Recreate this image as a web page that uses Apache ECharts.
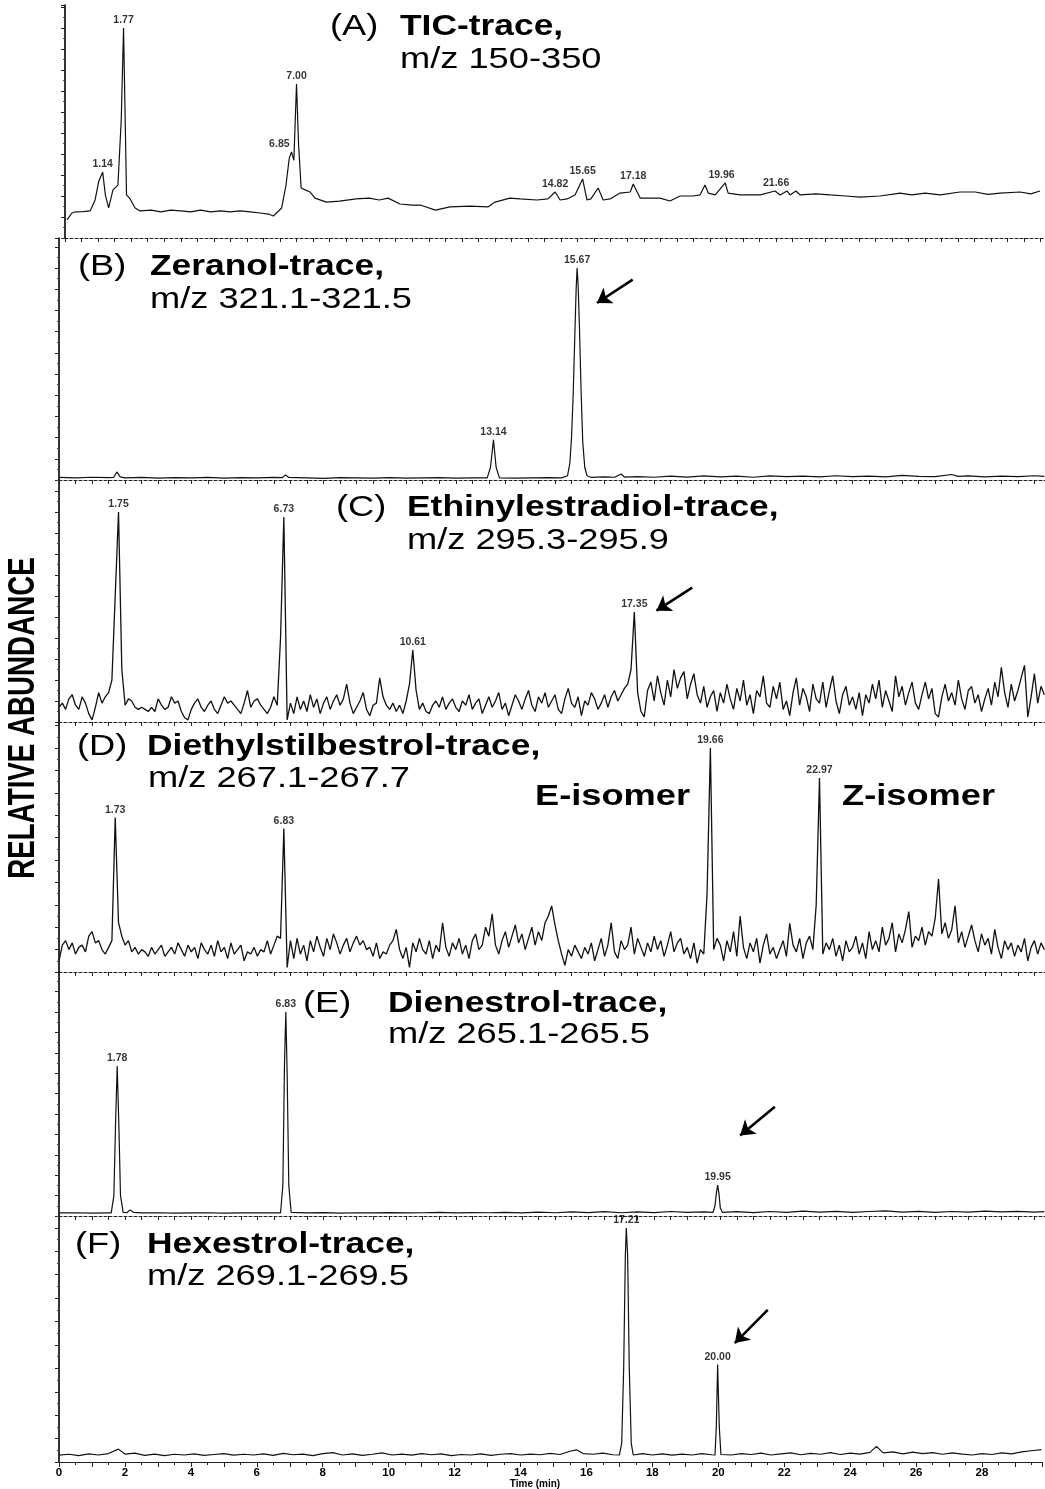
<!DOCTYPE html>
<html><head><meta charset="utf-8">
<script src="https://cdn.jsdelivr.net/npm/echarts/dist/echarts.min.js"></script>
<style>html,body{margin:0;padding:0;background:#fff}#c{width:1045px;height:1489px}</style>
</head><body><div id="c"></div>
<script>
// ---------------- DATA ----------------
// Panel A: TIC trace [time(min), relative abundance %]
const traceA = [[0.06,8.6],[0.21,11.9],[0.30,12.4],[0.55,12.6],[0.76,12.9],[0.91,18.1],[1.02,27],[1.14,31.4],[1.22,20.5],[1.32,14.3],[1.45,22.9],[1.60,25.2],[1.70,56],[1.77,100],[1.82,56],[1.86,20.5],[1.97,18.6],[2.12,14.3],[2.27,12.9],[2.6,13.3],[2.9,12.4],[3.2,13.3],[3.5,12.9],[3.8,12.4],[4.1,13.3],[4.4,12.4],[4.7,12.9],[5.0,12.4],[5.3,12.9],[5.6,12.4],[5.9,11.9],[6.15,11.4],[6.3,10.5],[6.55,14.3],[6.68,25],[6.78,38],[6.85,41],[6.92,37],[6.97,60],[7.00,73.3],[7.06,45],[7.14,23.8],[7.26,22.9],[7.41,21.9],[7.56,19.0],[7.9,17.1],[8.3,17.6],[8.8,18.6],[9.2,19.0],[9.5,18.1],[9.77,19.0],[10.13,16.2],[10.5,15.7],[10.74,15.7],[11.2,13.3],[11.64,14.8],[12.24,15.2],[12.79,14.8],[13.0,17.1],[13.45,19.0],[13.75,18.6],[14.27,18.1],[14.6,18.6],[14.82,21.9],[14.97,18.1],[15.18,18.6],[15.42,20.5],[15.65,28.1],[15.78,18.1],[15.9,18.6],[16.12,23.8],[16.27,18.1],[16.48,18.6],[16.78,21.4],[17.09,21.9],[17.18,25.7],[17.39,19.0],[17.99,19.0],[18.29,17.6],[18.6,20.0],[19.0,20.0],[19.2,20.5],[19.35,25.2],[19.45,21.4],[19.66,20.5],[19.96,26.2],[20.05,21.4],[20.41,20.5],[21.02,20.5],[21.47,22.4],[21.62,20.5],[21.83,22.4],[21.92,20.5],[22.10,22.4],[22.23,20.5],[22.7,21.0],[23.13,20.5],[23.6,20.0],[24.04,19.5],[24.64,20.0],[25.25,21.4],[25.6,20.5],[26.0,21.4],[26.46,20.5],[27.06,21.9],[27.52,21.9],[27.9,20.8],[28.27,21.4],[28.88,21.9],[29.2,21.0],[29.48,22.4]];

// Panel B: Zeranol trace
const traceB = [[0,1.2],[0.5,1.0],[1.0,1.3],[1.5,1.1],[1.65,1.2],[1.75,3.8],[1.85,1.5],[2.0,1.0],[2.5,1.2],[3,0.9],[3.5,1.1],[4,1.0],[4.5,1.2],[5,0.9],[5.5,1.1],[6,1.0],[6.5,1.2],[6.75,1.1],[6.85,2.4],[6.95,1.2],[7.5,1.0],[8,0.8],[8.5,1.1],[9,1.0],[9.5,0.9],[10,1.1],[10.5,0.9],[11,1.0],[11.5,1.1],[12,0.9],[12.5,1.0],[12.95,1.0],[13.05,6],[13.14,18.9],[13.22,6],[13.32,1.0],[13.8,0.9],[14.3,1.0],[14.8,1.1],[15.2,1.0],[15.38,2],[15.45,8],[15.5,20],[15.55,40],[15.6,68],[15.64,90],[15.67,100],[15.7,92],[15.74,72],[15.79,42],[15.84,18],[15.9,6],[15.97,2],[16.1,1.2],[16.5,1.5],[16.8,1.3],[17.0,2.8],[17.1,1.4],[17.5,1.6],[18,1.3],[18.5,1.8],[19,1.4],[19.5,1.9],[20,1.5],[20.5,1.8],[21,1.3],[21.5,1.9],[22,1.6],[22.5,1.8],[23,1.5],[23.5,2.0],[24,1.6],[24.5,1.8],[25,1.5],[25.5,2.2],[26,1.7],[26.5,1.6],[27,2.6],[27.2,1.7],[27.5,1.9],[28,1.5],[28.5,1.8],[29,1.6],[29.5,2.0],[29.8,1.7]];

// Panel C: Ethinylestradiol trace, sampled every stepC min from 0
const stepC = 0.1;
const valuesC = [
 7,9,6,11,13,8,6,12,9,4,
 1,7,14,9,12,14,20,60,100,25,
 8,11,10,7,6,7,6,5,7,5,
 11,8,6,7,12,9,10,5,2,1,
 6,9,11,7,5,8,10,6,4,8,
 12,9,10,8,6,4,9,15,7,10,
 11,8,6,4,7,12,8,40,97.6,1,
 9,4,12,6,10,5,13,7,11,4,
 9,12,6,10,13,8,11,18,9,4,
 7,10,14,6,3,8,9,21,12,8,
 6,9,5,8,4,10,18,34.3,15,6,
 9,5,4,8,10,7,12,6,9,11,
 7,5,10,8,13,6,9,11,4,8,
 12,7,10,14,6,9,3,8,13,10,
 6,11,15,8,5,12,9,14,7,10,
 13,6,4,11,16,9,7,12,3,10,
 8,14,11,6,9,13,7,12,15,10,
 13,16,18,25,52.4,14,5,2.4,15,19,
 10,22,14,8,20,12,25,16,21,24,
 11,18,23,13,9,17,7,12,15,5,
 14,9,18,11,6,16,10,20,8,13,
 4,15,12,22,9,7,17,11,19,6,
 10,3,14,21,8,16,12,5,18,11,
 9,19,7,15,22,10,4,13,17,8,
 12,6,14,3,13,9,18,11,20,7,
 15,10,5,22,12,17,8,14,19,9,
 6,13,19,11,16,4,2.4,12,18,10,
 14,8,20,11,6,15,17,9,13,5,
 11,16,8,19,12,26,14,7,18,10,
 15,21,27,2.4,12,23,9,17,13];

// Panel D: Diethylstilbestrol trace, sampled every stepD min from 0
const stepD = 0.1;
const valuesD = [
 5,12,14,10,13,8,11,12,9,16,
 18,13,14,10,8,11,14,69,22,16,
 12,14,9,11,8,10,9,7,11,8,
 10,12,7,9,11,8,13,10,7,12,
 9,11,6,13,10,8,12,7,14,9,
 11,6,13,8,10,12,5,9,8,11,
 7,10,9,14,8,12,16,15,64,2,
 14,6,15,8,12,5,14,9,16,11,
 7,15,10,17,13,8,12,15,9,13,
 16,12,14,10,11,7,13,6,9,8,
 12,14,19,10,6,11,2,13,9,15,
 10,8,14,6,12,9,22,11,7,13,
 10,15,8,12,6,14,17,10,12,20,
 16,26,12,8,14,18,11,16,21,13,
 17,10,15,20,12,18,14,22,25,29.5,
 21,14,8,3,10,7,12,9,6,11,
 8,13,5,10,15,7,12,22,9,6,
 14,10,12,20,8,15,11,7,13,9,
 16,10,14,7,12,18,9,13,15,8,
 11,6,13,4,10,8,35,100,10,15,
 12,5,14,9,18,7,25,11,6,13,
 9,15,4,12,17,8,11,6,10,14,
 7,21.7,12,9,15,6,13,16,10,30,
 86.6,8,13,10,15,7,12,5,14,9,
 11,16,8,13,6,18,10,14,9,20,
 12,15,22,9,17,13,19,27,11,16,
 14,20,12,18,16,24,41.5,17,22,15,
 19,29.5,13,18,11,16,21,14,9,17,
 12,15,8,19,11,6,14,10,13,7,
 12,9,15,5,11,14,8,13,10];

// Panel E: Dienestrol trace
const traceE = [[0,1.5],[0.5,1.6],[1.0,1.4],[1.5,1.5],[1.58,1.5],[1.66,10],[1.71,45],[1.76,73.5],[1.81,45],[1.86,10],[1.94,1.8],[2.05,1.6],[2.15,3.0],[2.25,1.8],[2.5,1.5],[3,1.6],[3.5,1.4],[4,1.5],[4.5,1.6],[5,1.4],[5.5,1.5],[6,1.6],[6.5,1.5],[6.70,1.5],[6.77,15],[6.82,75],[6.86,100],[6.90,70],[6.95,15],[7.02,1.8],[7.5,1.5],[8,1.7],[8.5,1.4],[9,1.6],[9.5,1.5],[10,1.7],[10.5,1.5],[11,1.6],[11.5,1.8],[12,1.5],[12.5,1.7],[13,1.6],[13.5,1.8],[14,1.5],[14.5,1.9],[15,1.6],[15.5,2.0],[16,1.7],[16.5,2.1],[17,1.6],[17.5,2.0],[18,1.7],[18.5,2.2],[19,1.8],[19.5,2.0],[19.78,1.8],[19.84,5],[19.88,11],[19.92,15.2],[19.96,11],[20.0,4],[20.06,1.8],[20.5,2.1],[21,1.7],[21.5,2.2],[22,1.8],[22.5,2.4],[23,1.9],[23.5,2.3],[24,1.8],[24.5,2.2],[25,2.5],[25.5,1.9],[26,2.3],[26.5,1.8],[27,2.2],[27.5,1.9],[28,2.4],[28.5,2.0],[29,2.3],[29.5,1.9],[29.8,2.1]];

// Panel F: Hexestrol trace
const traceF = [[0,2.9],[0.3,3.3],[0.6,2.7],[0.9,3.5],[1.2,3.0],[1.5,3.6],[1.8,5.5],[2.0,3.4],[2.3,3.8],[2.6,2.8],[2.9,3.4],[3.2,2.7],[3.5,3.3],[3.8,3.0],[4.1,3.5],[4.4,2.8],[4.7,3.2],[5.0,3.6],[5.3,2.9],[5.6,3.3],[5.9,3.0],[6.2,3.5],[6.5,2.8],[6.8,3.7],[7.1,3.1],[7.4,3.4],[7.7,2.7],[8.0,3.6],[8.3,4.0],[8.6,3.0],[8.9,3.5],[9.2,2.8],[9.5,3.3],[9.8,3.9],[10.1,3.0],[10.4,3.4],[10.7,2.9],[11.0,3.6],[11.3,3.1],[11.6,3.5],[11.9,2.7],[12.2,3.2],[12.5,3.0],[12.8,3.5],[13.1,2.8],[13.4,3.3],[13.7,3.6],[14.0,3.0],[14.3,3.4],[14.6,3.1],[14.9,3.7],[15.2,3.2],[15.5,4.6],[15.7,5.2],[15.9,3.6],[16.2,3.3],[16.5,3.8],[16.8,3.1],[17.0,3.0],[17.07,8],[17.13,40],[17.18,88],[17.21,100],[17.25,88],[17.3,40],[17.36,8],[17.42,3.0],[17.7,3.6],[18.0,3.0],[18.3,3.5],[18.6,2.9],[18.9,3.4],[19.2,3.0],[19.5,3.6],[19.8,3.1],[19.9,3.0],[19.94,15],[19.98,41.7],[20.03,15],[20.08,3.2],[20.4,3.0],[20.7,3.6],[21.0,3.2],[21.3,3.8],[21.6,3.0],[21.9,3.5],[22.2,3.9],[22.5,3.1],[22.8,3.7],[23.1,3.3],[23.4,4.0],[23.7,3.2],[24.0,3.8],[24.3,3.4],[24.6,4.1],[24.8,6.7],[25.0,3.9],[25.3,4.3],[25.6,3.5],[25.9,4.2],[26.2,3.6],[26.5,4.0],[26.8,3.3],[27.1,3.9],[27.4,3.4],[27.7,3.0],[28.0,3.6],[28.3,3.2],[28.6,3.9],[28.9,3.5],[29.2,4.3],[29.5,4.8],[29.8,5.3]];

// Peak annotations: [text, time, abundance]
const peaksA = [['1.14',1.14,31.4],['1.77',1.77,100],['6.85',6.85,41],['7.00',7.00,73.3],['14.82',14.82,21.9],['15.65',15.65,28.1],['17.18',17.18,25.7],['19.96',19.85,26.2],['21.66',21.5,22.4]];
const peaksB = [['13.14',13.14,18.9],['15.67',15.67,100]];
const peaksC = [['1.75',1.8,100],['6.73',6.8,97.6],['10.61',10.7,34.3],['17.35',17.4,52.4]];
const peaksD = [['1.73',1.7,69],['6.83',6.8,64],['19.66',19.7,100],['22.97',23.0,86.6]];
const peaksE = [['1.78',1.76,73.5],['6.83',6.86,100],['19.95',19.92,15.2]];
const peaksF = [['17.21',17.21,100],['20.00',19.98,41.7]];

// Arrows: [fromTime, fromAbund, toTime, toAbund]
const arrowsB = [[17.35,94.5,16.27,83.5]];
const arrowsC = [[19.15,64,18.07,53]];
const arrowsE = [[21.65,53.5,20.6,39.5]];
const arrowsF = [[21.5,65,20.5,50.8]];

// Texts
const panelTags = ['(A)','(B)','(C)','(D)','(E)','(F)'];
const panelNames = ['TIC-trace,','Zeranol-trace,','Ethinylestradiol-trace,','Diethylstilbestrol-trace,','Dienestrol-trace,','Hexestrol-trace,'];
const panelMz = ['m/z 150-350','m/z 321.1-321.5','m/z 295.3-295.9','m/z 267.1-267.7','m/z 265.1-265.5','m/z 269.1-269.5'];
const isomerLabels = ['E-isomer','Z-isomer'];
const xTickLabels = [0,2,4,6,8,10,12,14,16,18,20,22,24,26,28];
const yTitle = 'RELATIVE ABUNDANCE';
const xTitle = 'Time (min)';

// ---------------- LAYOUT ----------------
const W = 1045;
const FF = '"Liberation Sans", Arial, Helvetica, sans-serif';
const PXMIN = 33.07;
const seriesC = valuesC.map((v, i) => [+(i * stepC).toFixed(2), v]);
const seriesD = valuesD.map((v, i) => [+(i * stepD).toFixed(2), v]);

const panels = [
  {trace: traceA, peaks: peaksA, arrows: [], top: 5, bottom: 238, left: 65, ymax: 110.95, lw: 1.2,
   tag: [330, 27], name: [400, 27], mz: [400, 60]},
  {trace: traceB, peaks: peaksB, arrows: arrowsB, top: 238, bottom: 480, left: 59, ymax: 114.15, lw: 1.2,
   tag: [78, 267], name: [150, 267], mz: [150, 300]},
  {trace: seriesC, peaks: peaksC, arrows: arrowsC, top: 480, bottom: 722, left: 59, ymax: 115.24, lw: 1.3,
   tag: [336, 508], name: [407, 508], mz: [407, 541]},
  {trace: seriesD, peaks: peaksD, arrows: [], top: 722, bottom: 972, left: 59, ymax: 111.6, lw: 1.3,
   tag: [77, 747], name: [147, 747], mz: [148, 779]},
  {trace: traceE, peaks: peaksE, arrows: arrowsE, top: 972, bottom: 1216, left: 59, ymax: 119.6, lw: 1.2,
   tag: [303, 1004], name: [388, 1004], mz: [388, 1035]},
  {trace: traceF, peaks: peaksF, arrows: arrowsF, top: 1216, bottom: 1462, left: 59, ymax: 105.1, lw: 1.2,
   tag: [75, 1245], name: [147, 1245], mz: [147, 1277]}
];

const grids = [], xAxes = [], yAxes = [], series = [], graphics = [];

function txt(x, y, text, size, bold, sx) {
  return {
    type: 'text', x: x, y: y, scaleX: sx || 1.25, silent: true, z: 50,
    style: {text: text, fontSize: size, fontFamily: FF, fontWeight: bold ? 'bold' : 'normal',
            fill: '#000', align: 'left', verticalAlign: 'middle'}
  };
}

panels.forEach((p, i) => {
  const last = i === panels.length - 1;
  const xmax = +((W - p.left) / PXMIN).toFixed(2);
  grids.push({left: p.left, top: p.top, width: W - p.left, height: p.bottom - p.top});
  xAxes.push({
    type: 'value', gridIndex: i, min: 0, max: xmax, interval: last ? 1 : 0.5,
    axisLine: {show: true, onZero: false, lineStyle: {color: '#222', width: last ? 1.2 : 1, type: last ? 'solid' : [3, 2]}},
    axisTick: {show: true, length: last ? 5 : 4, lineStyle: {color: '#222', width: 1}},
    minorTick: {show: last, splitNumber: 2, length: 3, lineStyle: {color: '#222'}},
    splitLine: {show: false},
    axisLabel: last ? {
      show: true, margin: 5, color: '#000', fontSize: 11.5, fontWeight: 'bold',
      fontFamily: '"Liberation Sans Narrow", ' + FF,
      formatter: v => (xTickLabels.indexOf(v) >= 0 ? String(v) : '')
    } : {show: false}
  });
  yAxes.push({
    type: 'value', gridIndex: i, min: 0, max: p.ymax, interval: 10,
    axisLine: {show: true, lineStyle: {color: '#000', width: 1.6}},
    axisTick: {show: true, length: 4, lineStyle: {color: '#222'}},
    minorTick: {show: true, splitNumber: 2, length: 2, lineStyle: {color: '#444'}},
    axisLabel: {show: false}, splitLine: {show: false}
  });
  const s = {
    type: 'line', xAxisIndex: i, yAxisIndex: i, data: p.trace, showSymbol: false, symbol: 'none',
    lineStyle: {color: '#111', width: p.lw}, silent: true, animation: false, z: 3
  };
  if (p.arrows.length) {
    s.markLine = {
      silent: true, animation: false, symbol: ['none', 'arrow'], symbolSize: 14,
      lineStyle: {color: '#000', width: 2.6, type: 'solid'}, label: {show: false},
      data: p.arrows.map(a => [{coord: [a[0], a[1]]}, {coord: [a[2], a[3]]}])
    };
  }
  series.push(s);
  series.push({
    type: 'scatter', xAxisIndex: i, yAxisIndex: i, symbolSize: 0, silent: true, animation: false, z: 5,
    label: {show: true, position: 'top', distance: 2, fontSize: 10.5, fontWeight: 'bold', fontFamily: FF, color: '#000'},
    data: p.peaks.map(pk => {
      const item = {value: [pk[1], pk[2]], label: {formatter: pk[0]}};
      if (i === 0 && pk[0] === '6.85') { item.label.position = 'left'; item.label.offset = [0, -8]; }
      return item;
    })
  });
  graphics.push(txt(p.tag[0], p.tag[1], panelTags[i], 29, false));
  graphics.push(txt(p.name[0], p.name[1], panelNames[i], 29, true, 1.22));
  graphics.push(txt(p.mz[0], p.mz[1], panelMz[i], 29, false));
});

graphics.push(txt(535, 797, isomerLabels[0], 29, true));
graphics.push(txt(842, 797, isomerLabels[1], 29, true));
graphics.push({
  type: 'text', x: 24, y: 718, rotation: Math.PI / 2, scaleX: 0.77, silent: true,
  style: {text: yTitle, fontSize: 36, fontWeight: 'bold', fontFamily: FF, fill: '#000', align: 'center', verticalAlign: 'middle'}
});
graphics.push({
  type: 'text', x: 535, y: 1484, silent: true,
  style: {text: xTitle, fontSize: 10, fontWeight: 'bold', fontFamily: '"Liberation Sans Narrow", ' + FF, fill: '#000', align: 'center', verticalAlign: 'middle'}
});

const chart = echarts.init(document.getElementById('c'), null, {renderer: 'canvas'});
chart.setOption({
  backgroundColor: '#fff', animation: false,
  grid: grids, xAxis: xAxes, yAxis: yAxes, series: series, graphic: graphics
});
</script>
</body></html>
